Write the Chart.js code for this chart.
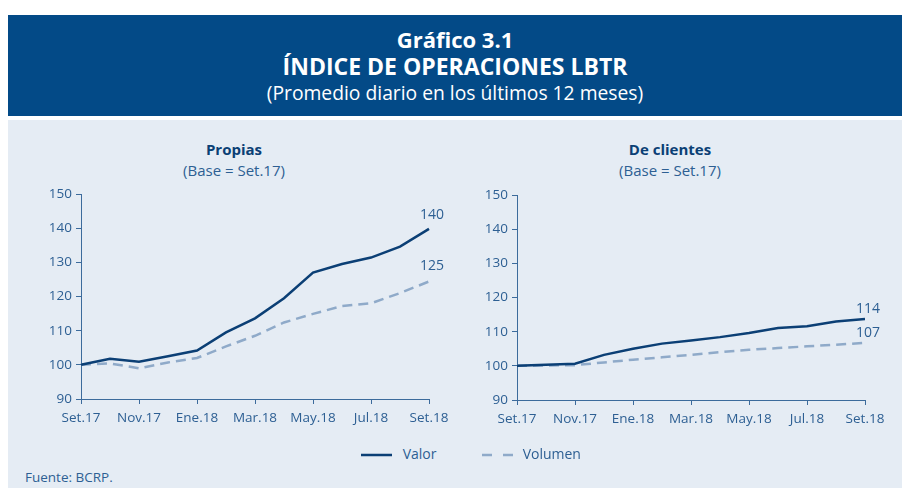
<!DOCTYPE html>
<html>
<head>
<meta charset="utf-8">
<script src="https://cdn.jsdelivr.net/npm/chart.js@4"></script>
<style>
  body { margin: 0; width: 902px; height: 490px; background: #fff; position: relative; overflow: hidden;
         font-family: 'Open Sans', sans-serif; }
  .header { position: absolute; left: 8px; top: 15px; width: 894px; height: 101px; background: #034a87;
            color: #fff; text-align: center; }
  .header div { position: absolute; left: 0; right: 0; line-height: 1; white-space: nowrap; }
  .header .t1 { top: 13px; font-size: 22px; font-weight: bold; }
  .header .t2 { top: 40px; font-size: 23px; font-weight: bold; }
  .header .t3 { top: 68px; font-size: 19.3px; }
  .panel { position: absolute; left: 8px; top: 120px; width: 894px; height: 368px; background: #e5ecf4; }
  .ttl { position: absolute; width: 300px; text-align: center; color: #0b3f75; font-size: 15px; font-weight: bold; line-height: 1; }
  .sub { position: absolute; width: 300px; text-align: center; color: #2d5f93; font-size: 15px; line-height: 1; }
  .cv { position: absolute; }
  .legend { position: absolute; top: 446px; color: #2d5f93; font-size: 14px; line-height: 16px; white-space: nowrap; }
  .src { position: absolute; left: 25px; top: 469px; color: #2d5f93; font-size: 13.5px; line-height: 16px; }
</style>
</head>
<body>
<div class="header">
  <div class="t1">Gráfico 3.1</div>
  <div class="t2">ÍNDICE DE OPERACIONES LBTR</div>
  <div class="t3">(Promedio diario en los últimos 12 meses)</div>
</div>
<div class="panel"></div>

<div class="ttl" style="left:84px; top:142px;">Propias</div>
<div class="sub" style="left:84px; top:163px;">(Base = Set.17)</div>
<div class="ttl" style="left:520px; top:142px;">De clientes</div>
<div class="sub" style="left:520px; top:163px;">(Base = Set.17)</div>

<canvas id="cPropias" class="cv" style="left:20px; top:180px;" width="440" height="260"></canvas>
<canvas id="cClientes" class="cv" style="left:456px; top:181px;" width="440" height="260"></canvas>

<div class="legend" style="left:361px;">
  <svg width="32" height="10" style="vertical-align:middle"><line x1="0" y1="5" x2="31" y2="5" stroke="#0b3f75" stroke-width="2.5"/></svg>
  <span style="margin-left:6px;">Valor</span>
</div>
<div class="legend" style="left:482px;">
  <svg width="32" height="10" style="vertical-align:middle"><line x1="0" y1="5" x2="31" y2="5" stroke="#8faac9" stroke-width="2.5" stroke-dasharray="10,11"/></svg>
  <span style="margin-left:5px;">Volumen</span>
</div>
<div class="src">Fuente: BCRP.</div>

<script>
// meses Set.17 - Set.18
const months = ['Set.17', 'Oct.17', 'Nov.17', 'Dic.17', 'Ene.18', 'Feb.18', 'Mar.18',
                'Abr.18', 'May.18', 'Jun.18', 'Jul.18', 'Ago.18', 'Set.18'];
const yTicks = [90, 100, 110, 120, 130, 140, 150];

const propiasValor   = [100, 101.8, 100.9, 102.5, 104.2, 109.5, 113.6, 119.5, 127, 129.5, 131.4, 134.6, 139.8];
const propiasVolumen = [100, 100.4, 99, 100.7, 102, 105.4, 108.5, 112.4, 114.9, 117.2, 118, 121, 124.4];

const clientesValor   = [100, 100.3, 100.6, 103.2, 105, 106.5, 107.4, 108.4, 109.6, 111.1, 111.6, 113, 113.7];
const clientesVolumen = [100, 100.1, 100.2, 101, 101.8, 102.5, 103.2, 104, 104.7, 105.2, 105.7, 106.2, 106.7];

const propiasEnd  = ['140', '125'];
const clientesEnd = ['114', '107'];

const NAVY = '#0b3f75';
const LIGHT = '#8faac9';
const TXT = '#2d5f93';
const AXIS = '#3c6b9c';

Chart.defaults.font.family = "'Open Sans', sans-serif";
Chart.defaults.color = TXT;

// etiqueta de valor al final de cada serie
const endLabels = {
    id: 'endLabels',
    afterDatasetsDraw(chart, args, opts) {
        const ctx = chart.ctx;
        ctx.save();
        ctx.font = "14px 'Open Sans', sans-serif";
        ctx.fillStyle = TXT;
        ctx.textAlign = 'center';
        ctx.textBaseline = 'middle';
        chart.data.datasets.forEach((ds, i) => {
            const meta = chart.getDatasetMeta(i);
            const pt = meta.data[meta.data.length - 1];
            ctx.fillText(opts.labels[i], pt.x + (opts.dx || 0), pt.y - opts.dy[i]);
        });
        ctx.restore();
    }
};

function makeChart(canvasId, valor, volumen, labels, dy) {
    const ctx = document.getElementById(canvasId).getContext('2d');
    return new Chart(ctx, {
        type: 'line',
        data: {
            labels: months,
            datasets: [{
                label: 'Valor',
                data: valor,
                borderColor: NAVY,
                borderWidth: 2.5,
                pointRadius: 0,
                tension: 0
            }, {
                label: 'Volumen',
                data: volumen,
                borderColor: LIGHT,
                borderWidth: 2.5,
                borderDash: [10, 6],
                pointRadius: 0,
                tension: 0
            }]
        },
        options: {
            responsive: false,
            animation: false,
            layout: { padding: { top: 14, right: 31, left: 0, bottom: 0 } },
            plugins: {
                legend: { display: false },
                tooltip: { enabled: false },
                endLabels: { labels, dy, dx: 3 }
            },
            scales: {
                x: {
                    offset: false,
                    border: { color: AXIS, width: 1 },
                    grid: {
                        drawOnChartArea: false,
                        tickLength: 5,
                        tickColor: c => (c.index % 2 === 0 ? AXIS : 'rgba(0,0,0,0)')
                    },
                    ticks: {
                        autoSkip: false,
                        maxRotation: 0,
                        padding: 6,
                        font: { size: 13.5 },
                        callback: (v, i) => (i % 2 === 0 ? months[i] : '')
                    },
                    afterFit: s => { s.height = 41; }
                },
                y: {
                    min: yTicks[0],
                    max: yTicks[yTicks.length - 1],
                    border: { color: AXIS, width: 1 },
                    grid: { drawOnChartArea: false, tickLength: 5, tickColor: AXIS },
                    ticks: { stepSize: 10, padding: 4, font: { size: 13.5 } },
                    afterFit: s => { s.width = 61; }
                }
            }
        },
        plugins: [endLabels]
    });
}

makeChart('cPropias', propiasValor, propiasVolumen, propiasEnd, [14, 15]);
makeChart('cClientes', clientesValor, clientesVolumen, clientesEnd, [10, 10]);
</script>
</body>
</html>
